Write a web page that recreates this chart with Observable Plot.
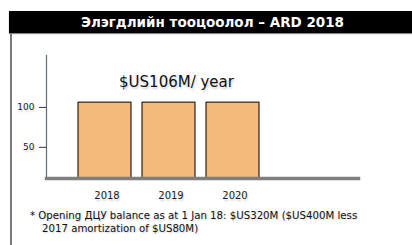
<!DOCTYPE html>
<html>
<head>
<meta charset="utf-8">
<script src="https://cdn.jsdelivr.net/npm/d3@7"></script>
<script src="https://cdn.jsdelivr.net/npm/@observablehq/plot@0.6"></script>
<style>
  html, body { margin: 0; padding: 0; background: #fff; }
  #wrap { position: relative; width: 412px; height: 245px; overflow: hidden; font-family: "DejaVu Sans", Verdana, sans-serif; }
  #title { position: absolute; left: 9px; top: 11px; width: 403px; height: 22px; background: #000; color: #fff;
           font: bold 13.5px "DejaVu Sans", Verdana, sans-serif; line-height: 22px; text-align: center; text-indent: 4px;
           box-shadow: 0 1px 1px #888; z-index: 2; }
  #border { position: absolute; left: 10px; top: 33px; width: 1.5px; height: 212px; background: #7a7a7a; z-index: 2; }
  #chart { position: absolute; left: 0; top: 0; }
  #note { position: absolute; left: 30px; top: 209px; font: 10.2px "DejaVu Sans", Verdana, sans-serif; line-height: 13px; color: #111;
          text-shadow: 1px 1px 2px rgba(0,0,0,0.2); z-index: 2; }
  svg text { text-shadow: 1px 2px 2px rgba(0,0,0,0.18); }
</style>
</head>
<body>
<div id="wrap">
  <div id="title"></div>
  <div id="border"></div>
  <div id="chart"></div>
  <div id="note"></div>
</div>
<script>
const titleText = "Элэгдлийн тооцоолол – ARD 2018";
const years = ["2018", "2019", "2020"];
const amounts = [106, 106, 106];
const yTicks = [50, 100];
const yDomain = [11, 165];
const annualLabel = "$US106M/ year";
const noteLines = [
  "* Opening ДЦУ balance as at 1 Jan 18: $US320M ($US400M less",
  "2017 amortization of $US80M)"
];

document.getElementById("title").textContent = titleText;
const note = document.getElementById("note");
noteLines.forEach((t, i) => {
  const d = document.createElement("div");
  d.textContent = t;
  if (i > 0) d.style.paddingLeft = "12px";
  note.appendChild(d);
});

const data = years.map((y, i) => ({year: y, value: amounts[i]}));

const chart = Plot.plot({
  width: 412,
  height: 245,
  marginLeft: 46,
  marginRight: 54,
  marginTop: 55,
  marginBottom: 67,
  style: {fontFamily: "DejaVu Sans, Verdana, sans-serif", background: "transparent", overflow: "visible"},
  x: {type: "band", domain: years, paddingInner: 0.17, paddingOuter: 1.0225, align: 0.2444},
  y: {domain: yDomain},
  marks: [
    Plot.barY(data, {x: "year", y: "value", fill: "#F5B97B", stroke: "#000", strokeWidth: 1, clip: true}),
    Plot.frame({anchor: "left", stroke: "#5d6b7d", strokeWidth: 1.2}),
    Plot.frame({anchor: "bottom", stroke: "#7f7f7f", strokeWidth: 3.5}),
    Plot.axisY({ticks: yTicks, tickSize: 7, tickPadding: 5, fontSize: 9, stroke: "#333", color: "#222", label: null}),
    Plot.axisX({tickSize: 0, tickPadding: 13, fontSize: 10, dx: 2, color: "#222", label: null}),
    Plot.text([annualLabel], {frameAnchor: "top", dx: -26, dy: 27, text: d => d, fontSize: 15, fill: "#111", lineAnchor: "middle"})
  ]
});
document.getElementById("chart").appendChild(chart);
</script>
</body>
</html>
